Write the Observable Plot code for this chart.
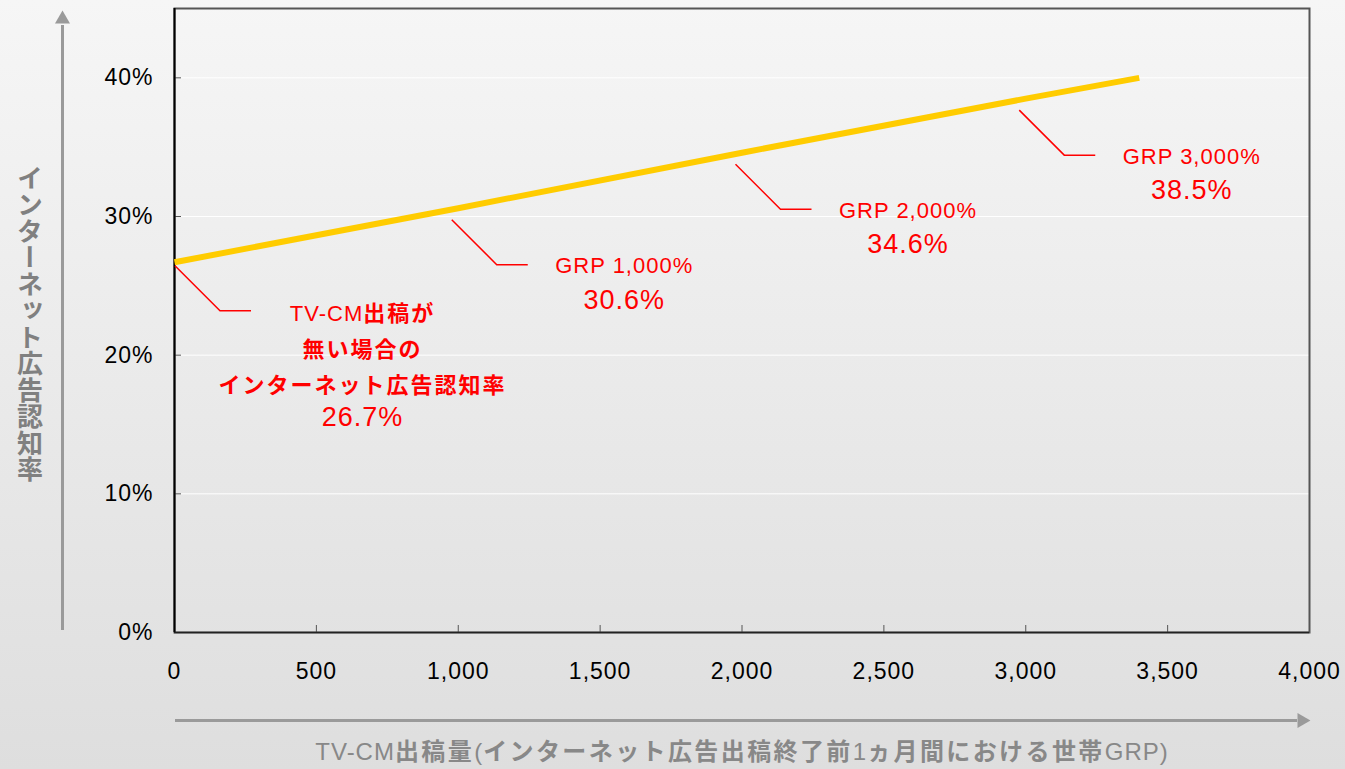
<!DOCTYPE html>
<html>
<head>
<meta charset="utf-8">
<script src="https://cdn.jsdelivr.net/npm/d3@7"></script>
<script src="https://cdn.jsdelivr.net/npm/@observablehq/plot@0.6"></script>
<style>
html, body { margin: 0; padding: 0; }
body { width: 1345px; height: 769px; overflow: hidden;
  background: linear-gradient(180deg, #f6f6f6 0%, #dedede 100%); }
svg text { letter-spacing: 1px; }
</style>
</head>
<body>
<div id="chart"></div>
<script>
// ---- data ----
const grp = [0, 1000, 2000, 3000, 3400];
const rate = [26.7, 30.6, 34.6, 38.5, 40.0];
const yTicks = [0, 10, 20, 30, 40];
const xTicks = [0, 500, 1000, 1500, 2000, 2500, 3000, 3500, 4000];
const noteGRP = [0, 1000, 2000, 3000];
const noteRate = [26.7, 30.6, 34.6, 38.5];
const noteHead = ["TV-CM出稿が\n無い場合の\nインターネット広告認知率", "GRP 1,000%", "GRP 2,000%", "GRP 3,000%"];
const noteValue = ["26.7%", "30.6%", "34.6%", "38.5%"];
const yTitle = "インターネット広告認知率";
const xTitle = "TV-CM出稿量(インターネット広告出稿終了前1ヵ月間における世帯GRP)";

const series = grp.map((g, i) => ({grp: g, rate: rate[i]}));
const notes = noteGRP.map((g, i) => ({i, grp: g, rate: noteRate[i], head: noteHead[i], value: noteValue[i]}));

const font = "'Liberation Sans', Arial, 'Noto Sans CJK JP', sans-serif";
const red = "#ff0000";
const arrowGray = "#9a9a9a";

const leaders = (index, scales, values, dimensions) => {
  const g = d3.create("svg:g").attr("fill", "none").attr("stroke", red).attr("stroke-width", 1.5);
  noteGRP.forEach((gx, i) => {
    const x0 = Math.max(scales.x(gx) - 6, dimensions.marginLeft + 1);
    const y0 = scales.y(noteRate[i]) + (i === 0 ? 4 : 12);
    g.append("path").attr("d", `M${x0},${y0}l45,45h31`);
  });
  return g.node();
};

const plot = Plot.plot({
  width: 1345,
  height: 769,
  marginLeft: 174,
  marginRight: 36,
  marginTop: 8,
  marginBottom: 137,
  style: {background: "transparent", fontFamily: font, fontSize: "23px", color: "#000", overflow: "visible"},
  x: {domain: [0, 4000], label: null},
  y: {domain: [0, 45], label: null},
  marks: [
    Plot.ruleY(yTicks.filter(d => d > 0), {y: d => d, stroke: "#ffffff", strokeWidth: 1}),
    Plot.frame({stroke: "#555", strokeWidth: 2}),
    Plot.axisY({ticks: yTicks, tickFormat: d => d + "%", tickSize: -7, tickPadding: 28, stroke: "#555", fill: "#000", fontSize: 23, label: null}),
    Plot.axisX({ticks: xTicks, tickFormat: d3.format(","), tickSize: -7, tickPadding: 37, stroke: "#555", fill: "#000", fontSize: 23, label: null}),
    Plot.ruleX([0], {x: d => d, stroke: "#000", strokeWidth: 2}),
    Plot.ruleY([0], {y: d => d, stroke: "#222", strokeWidth: 1.5}),
    Plot.line(series, {x: "grp", y: "rate", stroke: "#FFCC00", strokeWidth: 6, strokeLinecap: "butt"}),
    leaders,
    // first annotation
    Plot.text(notes.filter(d => d.i === 0), {x: "grp", y: "rate", text: "head", dx: 188, dy: 83, fill: red, fontSize: 22, lineHeight: 1.64, textAnchor: "middle", lineAnchor: "middle"}),
    Plot.text(notes.filter(d => d.i === 0), {x: "grp", y: "rate", text: "value", dx: 188, dy: 155, fill: red, fontSize: 27, textAnchor: "middle", lineAnchor: "middle"}),
    // GRP annotations
    Plot.text(notes.filter(d => d.i > 0), {x: "grp", y: "rate", text: "head", dx: 166, dy: 58, fill: red, fontSize: 22, textAnchor: "middle", lineAnchor: "middle"}),
    Plot.text(notes.filter(d => d.i > 0), {x: "grp", y: "rate", text: "value", dx: 166, dy: 92, fill: red, fontSize: 27, textAnchor: "middle", lineAnchor: "middle"}),
    // axis arrows
    Plot.ruleX([0], {x: d => d, dx: -112, insetTop: 17, insetBottom: 2, stroke: arrowGray, strokeWidth: 3}),
    Plot.dot([0], {x: d => d, frameAnchor: "top", dx: -112, dy: 10.7, r: 5.57, symbol: "triangle", fill: arrowGray}),
    Plot.ruleY([0], {y: d => d, dy: 88, insetLeft: 1, insetRight: 12, stroke: arrowGray, strokeWidth: 3}),
    Plot.dot([0], {y: d => d, frameAnchor: "right", dx: -7.7, dy: 88, r: 5.57, symbol: "triangle", rotate: 90, fill: arrowGray}),
    // axis titles
    Plot.text([yTitle], {text: d => d, frameAnchor: "left", dx: -147, dy: -5, fontSize: 26, fontWeight: "bold", fill: "#808080", textAnchor: "middle", lineAnchor: "middle"}),
    Plot.text([xTitle], {text: d => d, frameAnchor: "bottom", dy: 120, fontSize: 24, fill: "#888888", textAnchor: "middle", lineAnchor: "middle"})
  ]
});

document.getElementById("chart").appendChild(plot);

// mixed weights: CJK runs bold (as in the original), Latin runs regular
function mixRuns(textEl, cjkSpacing) {
  const tspans = textEl.querySelectorAll("tspan");
  const targets = tspans.length ? Array.from(tspans) : [textEl];
  targets.forEach(t => {
    const s = t.textContent;
    t.textContent = "";
    for (const m of s.matchAll(/[\x00-\x7F]+|[^\x00-\x7F]+/g)) {
      const sp = document.createElementNS("http://www.w3.org/2000/svg", "tspan");
      sp.textContent = m[0];
      if (/[^\x00-\x7F]/.test(m[0])) {
        sp.setAttribute("font-weight", "bold");
        sp.setAttribute("letter-spacing", cjkSpacing);
      }
      t.appendChild(sp);
    }
  });
}
const svg = d3.select(plot);
svg.selectAll("text").each(function () {
  const c = this.textContent;
  if (c === noteHead[0].replace(/\n/g, "")) mixRuns(this, "2px");
  else if (c === xTitle) mixRuns(this, "2.4px");
  else if (c === yTitle) {
    this.setAttribute("writing-mode", "vertical-rl");
    this.style.textOrientation = "upright";
    this.style.letterSpacing = "0.5px";
  }
});
</script>
</body>
</html>
